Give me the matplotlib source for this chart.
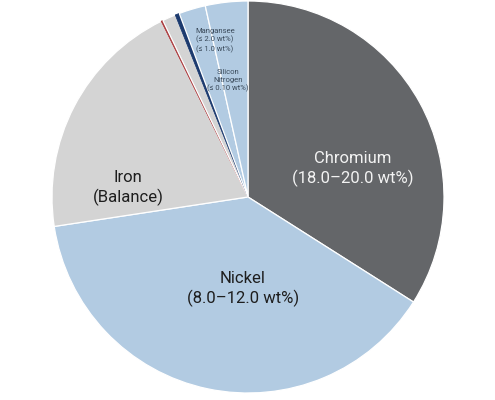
import matplotlib.pyplot as plt

# composition shares (clockwise from top)
names = ["Chromium", "Nickel", "Iron", "Trace A", "Trace B", "Trace C", "Manganese", "Silicon/Nitrogen"]
shares = [34.0, 38.6, 20.1, 0.15, 1.1, 0.35, 2.2, 3.5]
colors = ["#646669", "#b2cbe2", "#d4d4d4", "#a8393c", "#d4d4d4", "#1c3a6e", "#b2cbe2", "#b2cbe2"]

big_labels = ["Chromium\n(18.0\u201320.0 wt%)", "Nickel\n(8.0\u201312.0 wt%)", "Iron\n(Balance)"]
small_labels = ["Mangansee\n(\u2264 2.0 wt%)\n(\u2264 1.0 wt%)", "Silicon\nNitrogen\n(\u2264 0.10 wt%)"]

plt.rcParams['font.family'] = ['Roboto', 'DejaVu Sans']

fig = plt.figure(figsize=(4.95, 4.0), dpi=100)
ax = fig.add_axes([52 / 495, 7 / 400, 392 / 495, 392 / 400])

wedges, _ = ax.pie(shares, colors=colors, startangle=90, counterclock=False,
                   radius=1.0, wedgeprops=dict(edgecolor="white", linewidth=0.9))
for i in (3, 5):
    wedges[i].set_edgecolor(colors[i])
    wedges[i].set_linewidth(0.6)

ax.text(0.536, 0.143, big_labels[0], ha="center", va="center", fontsize=12,
        color="#f2f2f2", linespacing=1.25)
ax.text(-0.026, -0.469, big_labels[1], ha="center", va="center", fontsize=12,
        color="#1e1e1e", linespacing=1.25)
ax.text(-0.612, 0.046, big_labels[2], ha="center", va="center", fontsize=12,
        color="#1e1e1e", linespacing=1.25)
ax.text(-0.168, 0.80, small_labels[0], ha="center", va="center", fontsize=5.5,
        color="#3a4a5a", linespacing=1.3)
ax.text(-0.102, 0.592, small_labels[1], ha="center", va="center", fontsize=5.5,
        color="#3a4a5a", linespacing=1.3)

ax.set_xlim(-1, 1)
ax.set_ylim(-1, 1)
ax.set_aspect("equal")
ax.axis("off")

fig.savefig("out.png", dpi=100, facecolor="white")
